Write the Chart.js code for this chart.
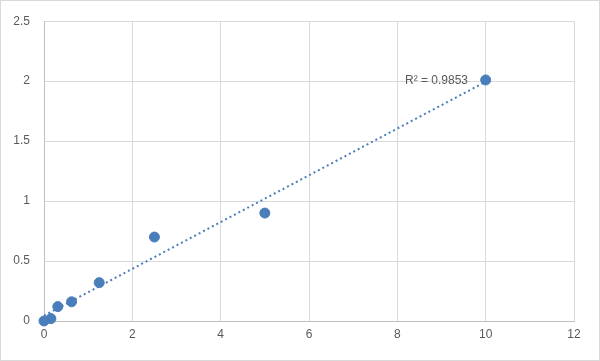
<!DOCTYPE html>
<html>
<head>
<meta charset="utf-8">
<script src="https://cdn.jsdelivr.net/npm/chart.js@4"></script>
<style>
  body { margin: 0; background: #fff; }
  #wrap { width: 600px; height: 361px; position: relative; }
</style>
</head>
<body>
<div id="wrap"><canvas id="myChart"></canvas></div>
<script>
const concentration = [0, 0.156, 0.3125, 0.625, 1.25, 2.5, 5, 10];
const od = [0, 0.02, 0.12, 0.16, 0.32, 0.70, 0.90, 2.01];
const rSquaredText = 'R² = 0.9853';

// least squares line through the points (Excel-style linear trendline)
function linearFit(xs, ys) {
    const n = xs.length;
    const mx = xs.reduce((a, b) => a + b, 0) / n;
    const my = ys.reduce((a, b) => a + b, 0) / n;
    let sxy = 0, sxx = 0;
    for (let i = 0; i < n; i++) {
        sxy += (xs[i] - mx) * (ys[i] - my);
        sxx += (xs[i] - mx) * (xs[i] - mx);
    }
    const slope = sxy / sxx;
    return { slope: slope, intercept: my - slope * mx };
}
const fit = linearFit(concentration, od);
const xMin = concentration[0];
const xMax = concentration[concentration.length - 1];
const trend = [
    { x: xMin, y: fit.intercept + fit.slope * xMin },
    { x: xMax, y: fit.intercept + fit.slope * xMax }
];

const blue = '#4a7ebb';
const textGray = '#595959';
const fontFamily = '"Liberation Sans", Arial, sans-serif';

const extras = {
    id: 'extras',
    afterDatasetsDraw(chart) {
        const c = chart.ctx;
        const xs = chart.scales.x, ys = chart.scales.y;
        c.save();
        c.fillStyle = textGray;
        c.font = '12px ' + fontFamily;
        c.textAlign = 'right';
        c.textBaseline = 'middle';
        c.fillText(rSquaredText, xs.getPixelForValue(9.6), ys.getPixelForValue(2.0));
        c.restore();
    },
    afterDraw(chart) {
        const c = chart.ctx;
        c.save();
        c.strokeStyle = '#d9d9d9';
        c.lineWidth = 1;
        c.strokeRect(0.5, 0.5, chart.width - 1, chart.height - 1);
        c.restore();
    }
};

const ctx = document.getElementById('myChart').getContext('2d');
const chart = new Chart(ctx, {
    type: 'scatter',
    data: {
        datasets: [
            {
                label: 'trend',
                type: 'line',
                data: trend,
                borderColor: blue,
                borderWidth: 2,
                borderDash: [2, 3],
                pointRadius: 0,
                fill: false,
                order: 2
            },
            {
                label: 'OD',
                data: concentration.map((x, i) => ({ x: x, y: od[i] })),
                backgroundColor: blue,
                borderColor: blue,
                pointRadius: 5,
                clip: false,
                order: 1
            }
        ]
    },
    options: {
        animation: false,
        responsive: true,
        maintainAspectRatio: false,
        layout: { padding: { top: 19, right: 26, bottom: 0, left: 0 } },
        plugins: {
            legend: { display: false },
            tooltip: { enabled: false }
        },
        scales: {
            x: {
                type: 'linear',
                min: 0,
                max: 12,
                ticks: {
                    stepSize: 2,
                    color: textGray,
                    font: { size: 12, family: fontFamily },
                    padding: 6
                },
                grid: { color: '#d9d9d9', drawTicks: false },
                border: { color: '#bfbfbf' },
                afterFit(scale) { scale.height = 40; }
            },
            y: {
                min: 0,
                max: 2.5,
                ticks: {
                    stepSize: 0.5,
                    color: textGray,
                    font: { size: 12, family: fontFamily },
                    padding: 14,
                    callback: value => String(value)
                },
                grid: { color: '#d9d9d9', drawTicks: false },
                border: { color: '#bfbfbf' },
                afterFit(scale) { scale.width = 44; }
            }
        }
    },
    plugins: [extras]
});
</script>
</body>
</html>
